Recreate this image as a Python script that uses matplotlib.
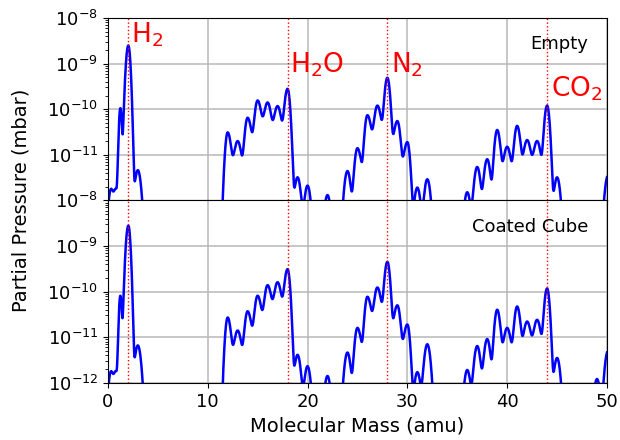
import numpy as np
import matplotlib.pyplot as plt

# peak positions (amu) and peak heights (mbar)
mass = [0.3, 0.8, 1.25, 2.05, 3, 12, 13, 14, 15, 16, 17, 18, 19, 20, 22,
        24, 25, 26, 27, 28, 29, 30, 31, 32, 36, 37, 38, 39, 40, 41, 42, 43,
        44, 45, 49, 50.1]
empty = [1.7e-12, 1.7e-12, 1.05e-10, 2.5e-9, 4.6e-12, 3.1e-11, 2.0e-11,
         6.5e-11, 1.55e-10, 1.4e-10, 1.17e-10, 2.8e-10, 3.2e-12, 2.1e-12,
         1.3e-12, 4.4e-12, 1.4e-11, 7.4e-11, 1.2e-10, 4.9e-10, 5.5e-11,
         1.9e-11, 1.9e-12, 2.9e-12, 1.5e-12, 5.4e-12, 8.0e-12, 3.5e-11,
         1.5e-11, 4.3e-11, 2.1e-11, 2.0e-11, 1.2e-10, 3.2e-12, 0, 3.5e-12]
coated = [1.7e-12, 1.7e-12, 8.1e-11, 2.8e-9, 6.6e-12, 2.7e-11, 1.4e-11,
          3.7e-11, 8.1e-11, 1.38e-10, 1.6e-10, 3.1e-10, 4.1e-12, 2.3e-12,
          1.4e-12, 4.6e-12, 1.6e-11, 7.7e-11, 1.23e-10, 4.5e-10, 5.0e-11,
          1.9e-11, 1.7e-12, 7.0e-12, 1.9e-12, 6.4e-12, 9.1e-12, 4.0e-11,
          1.6e-11, 4.7e-11, 2.2e-11, 2.4e-11, 1.17e-10, 3.5e-12, 1.2e-12,
          5.0e-12]

gas_mass = [2, 18, 28, 44]
gas_name = ['H$_2$', 'H$_2$O', 'N$_2$', 'CO$_2$']
label_pos = [(2.36, 2.9e-9), (18.2, 6.4e-10), (28.4, 6.4e-10), (44.4, 1.86e-10)]

# line widths of the low mass peaks (left, right)
fixed_width = {0.3: (0.2, 0.2), 0.8: (0.2, 0.2), 1.25: (0.11, 0.11), 2.05: (0.18, 0.155)}


def side_width(h, h_nb):
    # peaks sitting next to a strong neighbour look broader
    if h < 1e-11:
        return 0.25
    return 0.19 + 0.11 * min(1.0, h_nb / h)


def neighbour(i, step, heights):
    j = i + step
    if 0 <= j < len(mass) and abs(mass[j] - mass[i]) <= 1.1:
        return heights[j]
    return 0.0


def spectrum(x, heights):
    y = np.full_like(x, 1e-14)
    for i, (m, h) in enumerate(zip(mass, heights)):
        if h <= 0:
            continue
        if m in fixed_width:
            sl, sr = fixed_width[m]
        else:
            sl = side_width(h, neighbour(i, -1, heights))
            sr = side_width(h, neighbour(i, 1, heights))
        d = x - m
        s = np.where(d < 0, sl, sr)
        y += h * np.exp(-d ** 2 / (2 * s ** 2))
    return y


x = np.linspace(0, 50, 5001)

fig, (ax1, ax2) = plt.subplots(2, 1, sharex=True, figsize=(6.2, 4.4), dpi=100)
fig.subplots_adjust(left=0.174, right=0.979, top=0.959, bottom=0.130, hspace=0)

for ax, heights, name in [(ax1, empty, 'Empty'), (ax2, coated, 'Coated Cube')]:
    ax.plot(x, spectrum(x, heights), color='blue', lw=1.8)
    for gm in gas_mass:
        ax.axvline(gm, color='red', ls=':', lw=1)
    ax.set_yscale('log')
    ax.set_ylim(1e-12, 1e-8)
    ax.set_xlim(0, 50)
    ax.grid(True, color='#b8b8b8', lw=1.1)
    ax.tick_params(labelsize=13)
    ax.text(0.962, 0.857, name, transform=ax.transAxes, ha='right', va='center', fontsize=13)

ax1.set_yticks([1e-11, 1e-10, 1e-9, 1e-8])
ax1.set_ylim(1e-12, 1e-8)
ax2.set_xticks([0, 10, 20, 30, 40, 50])

for name, (lx, ly) in zip(gas_name, label_pos):
    ax1.text(lx, ly, name, color='red', fontsize=19, ha='left', va='baseline')

ax2.set_xlabel('Molecular Mass (amu)', fontsize=14)
ax2.set_ylabel('Partial Pressure (mbar)', fontsize=14)
ax2.yaxis.set_label_coords(-0.155, 1.0)

fig.savefig('out.png', dpi=100)
